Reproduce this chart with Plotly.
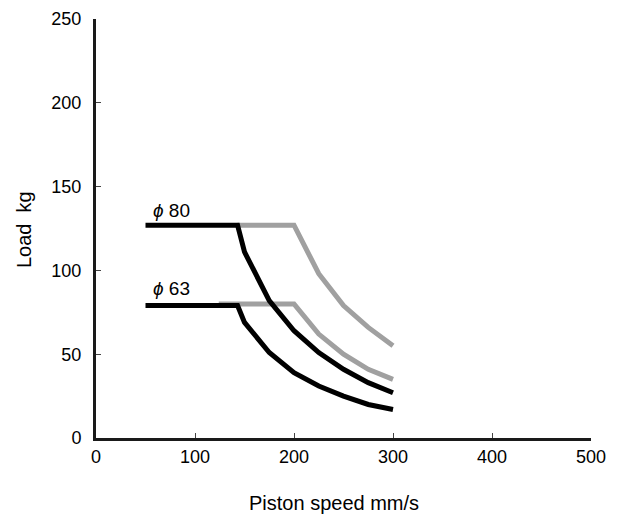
import plotly.graph_objects as go

# Data
black80_x = [50, 143, 150, 175, 200, 225, 250, 275, 300]
black80_y = [127, 127, 111, 82, 64, 51, 41, 33, 27]
black63_x = [50, 143, 150, 175, 200, 225, 250, 275, 300]
black63_y = [79, 79, 69, 51, 39, 31, 25, 20, 17]
gray80_x = [143, 200, 225, 250, 275, 300]
gray80_y = [127, 127, 98, 79, 66, 55]
gray63_x = [124, 200, 225, 250, 275, 300]
gray63_y = [80, 80, 62, 50, 41, 35]
label_sym = ["ϕ", "ϕ"]
label_num = ["80", "63"]
label_x = [56, 56]
label_y = [136, 89]

x_ticks = [0, 100, 200, 300, 400, 500]
y_ticks = [0, 50, 100, 150, 200, 250]
x_title = "Piston speed mm/s"
y_title = "Load  kg"

GRAY = "#a0a0a0"
BLACK = "#000000"
FONT = "Liberation Sans, Arial, sans-serif"

L, R, T, B = 96, 34, 19, 81
plot_h = 519 - T - B
plot_w = 625 - L - R

fig = go.Figure()
for xs, ys, c in [(gray80_x, gray80_y, GRAY), (gray63_x, gray63_y, GRAY),
                  (black80_x, black80_y, BLACK), (black63_x, black63_y, BLACK)]:
    fig.add_trace(go.Scatter(x=xs, y=ys, mode="lines",
                             line=dict(color=c, width=5), showlegend=False,
                             hoverinfo="skip"))

for s, n, x, y in zip(label_sym, label_num, label_x, label_y):
    fig.add_annotation(x=x, y=y, text=f"<i>{s}</i> {n}", showarrow=False,
                       xanchor="left", yanchor="middle",
                       font=dict(size=19, color="#000", family=FONT))

# axis titles (placed in pixel terms relative to the plot area)
fig.add_annotation(xref="paper", yref="paper", x=(334 - L) / plot_w,
                   y=(T + plot_h - 503) / plot_h,
                   text=x_title, showarrow=False, xanchor="center", yanchor="middle",
                   font=dict(size=20, family=FONT, color="#000"))
fig.add_annotation(xref="paper", yref="paper", x=(24 - L) / plot_w,
                   y=(T + plot_h - 230) / plot_h, text=y_title,
                   showarrow=False, textangle=-90, xanchor="center", yanchor="middle",
                   font=dict(size=20, family=FONT, color="#000"))

fig.update_layout(
    width=625, height=519,
    margin=dict(l=L, r=R, t=T, b=B, autoexpand=False),
    paper_bgcolor="white", plot_bgcolor="white",
    font=dict(family=FONT, size=18, color="#000"),
    xaxis=dict(range=[0, 500], tickvals=x_ticks, showgrid=False, zeroline=False,
               showline=True, linecolor="#1a1a1a", linewidth=3, automargin=False,
               ticks="inside", ticklen=5, tickcolor="#444", tickwidth=1,
               tickfont=dict(size=18)),
    yaxis=dict(range=[0, 250], tickvals=y_ticks, showgrid=False, zeroline=False,
               showline=True, linecolor="#1a1a1a", linewidth=3, automargin=False,
               ticks="inside", ticklen=5, tickcolor="#444", tickwidth=1,
               ticklabelstandoff=8,
               tickfont=dict(size=18)),
)

fig.write_html("out.html", config={"displayModeBar": False},
               post_script="document.body.style.margin='0';document.body.style.overflow='hidden';")
